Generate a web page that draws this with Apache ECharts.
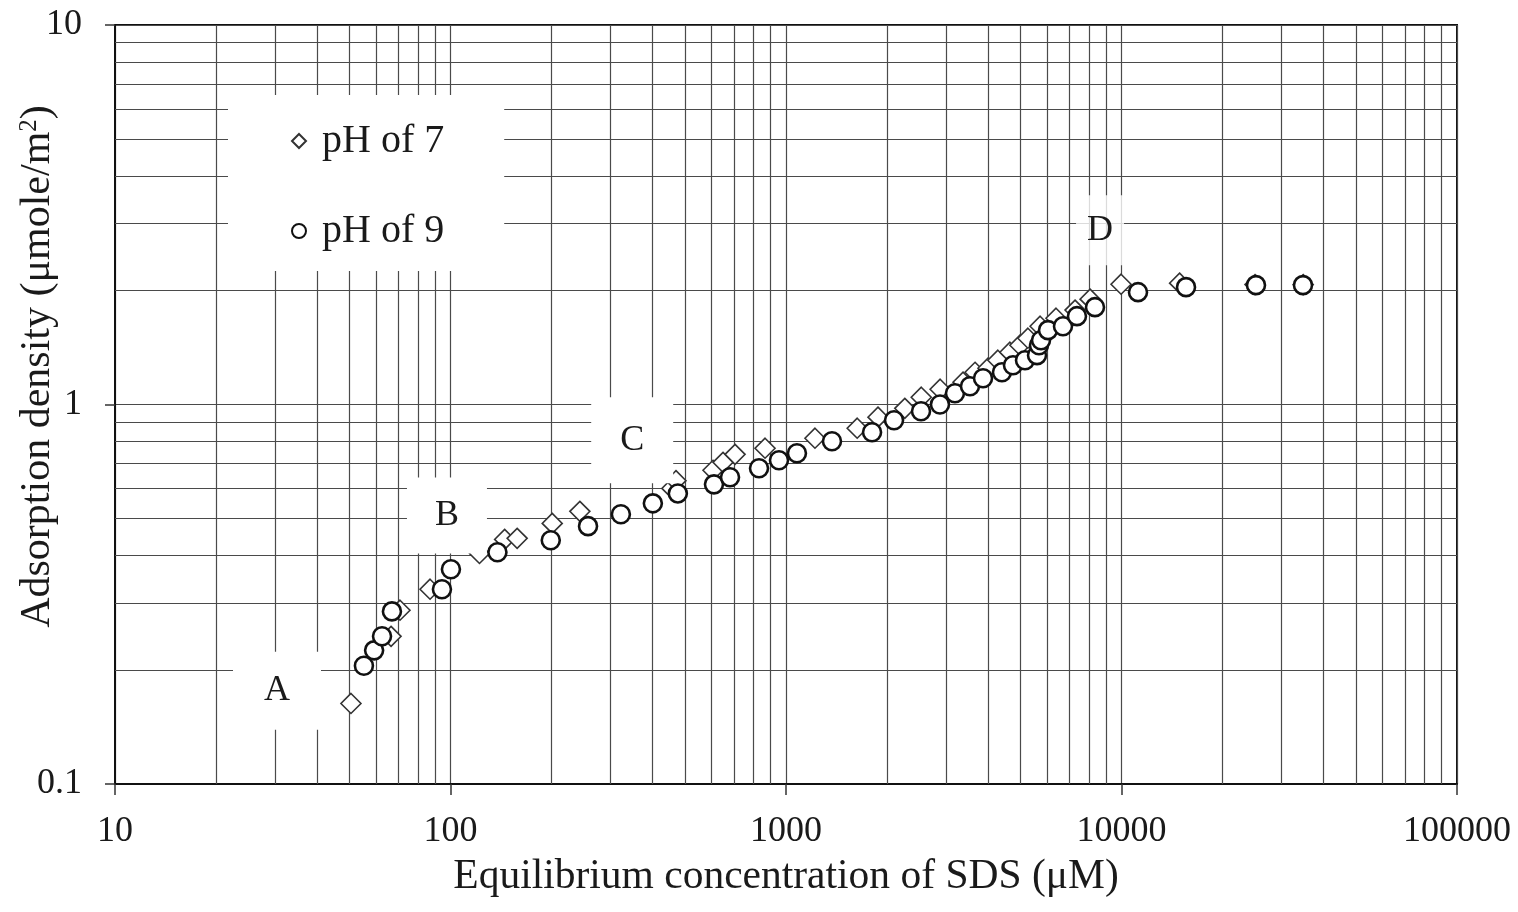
<!DOCTYPE html>
<html>
<head>
<meta charset="utf-8">
<script src="https://cdn.jsdelivr.net/npm/echarts@6/dist/echarts.min.js"></script>
<style>
  html, body { margin: 0; padding: 0; background: #fff; }
  #chart { width: 1518px; height: 912px; }
</style>
</head>
<body>
<div id="chart"></div>
<script>
// pH 7 (diamonds)
const ph7Conc = [50.5, 66.5, 70.7, 86.9, 122, 145, 158, 201, 243, 457, 470, 606, 649, 705, 866, 1220, 1630, 1880, 2260, 2530,
  2880, 3370, 3660, 4000, 4280, 4650, 4980, 5260, 5720, 6380, 7270, 8060, 9970, 14900, 25000, 34800]
const ph7Ads = [0.163, 0.245, 0.287, 0.326, 0.405, 0.441, 0.444, 0.486, 0.523, 0.601, 0.63, 0.671, 0.704, 0.739, 0.767, 0.815, 0.866, 0.926, 0.977, 1.045,
  1.097, 1.145, 1.216, 1.246, 1.308, 1.373, 1.433, 1.495, 1.608, 1.688, 1.773, 1.895, 2.075, 2.088, 2.07, 2.07]
// pH 9 (circles)
const ph9Conc = [55.2, 59.2, 62.5, 66.9, 94.3, 100.3, 138, 199, 257, 322, 401, 476, 610, 681, 831, 953, 1078, 1371, 1805, 2099,
  2526, 2877, 3189, 3535, 3866, 4403, 4749, 5157, 5600, 5677, 5756, 6040, 6693, 7367, 8337, 11200, 15570, 25170, 34750]
const ph9Ads = [0.205, 0.225, 0.245, 0.285, 0.326, 0.368, 0.408, 0.439, 0.478, 0.514, 0.549, 0.583, 0.616, 0.643, 0.679, 0.713, 0.744, 0.800, 0.845, 0.909,
  0.960, 1.000, 1.071, 1.117, 1.173, 1.216, 1.269, 1.308, 1.349, 1.433, 1.477, 1.570, 1.608, 1.709, 1.805, 1.977, 2.038, 2.063, 2.063]
// region labels
const regionNames = ['A', 'B', 'C', 'D']
const regionConc = [30.4, 97.6, 348, 8630]
const regionAds = [0.176, 0.51, 0.805, 2.88]

const serif = "'Liberation Serif', 'Times New Roman', serif"
const ink = '#1a1a1a'
const gridColor = '#4a4a4a'

// minor log gridlines (2..9 in each decade)
function minorLines(lo, hi) {
  const out = []
  for (let d = lo; d < hi; d *= 10) {
    for (let m = 2; m <= 9; m++) out.push(+(m * d).toPrecision(3))
  }
  return out
}
const gridMarks = minorLines(10, 100000).map(v => ({ xAxis: v }))
  .concat(minorLines(0.1, 10).map(v => ({ yAxis: v })))

const boxSizes = [[88, 78], [80, 76], [82, 86], [48, 70]]
const labelMarks = regionNames.map((n, i) => ({
  name: n,
  coord: [regionConc[i], regionAds[i]],
  symbolSize: boxSizes[i],
  itemStyle: { color: n === 'D' ? 'rgba(255,255,255,0.8)' : '#fff' }
}))

const chart = echarts.init(document.getElementById('chart'))
chart.setOption({
  backgroundColor: '#fff',
  animation: false,
  grid: {
    left: 115, right: 61, top: 25, bottom: 128,
    outerBoundsMode: 'none',
    show: true, borderColor: '#111', borderWidth: 2, backgroundColor: '#fff'
  },
  legend: {
    data: ['pH of 7', 'pH of 9'],
    orient: 'vertical',
    left: 228, top: 95,
    padding: [26, 60, 20, 63],
    backgroundColor: '#fff',
    itemGap: 50,
    itemWidth: 14, itemHeight: 14,
    textStyle: { fontFamily: serif, fontSize: 40, color: ink, padding: [0, 0, 0, 11] }
  },
  xAxis: {
    type: 'log', logBase: 10, min: 10, max: 100000,
    name: 'Equilibrium concentration of SDS (μM)',
    nameLocation: 'middle', nameGap: 72,
    nameTextStyle: { fontFamily: serif, fontSize: 41.5, color: ink },
    axisLine: { lineStyle: { color: '#111', width: 2 } },
    axisTick: { show: true, length: 11, lineStyle: { color: '#333', width: 1.5 } },
    axisLabel: { fontFamily: serif, fontSize: 36, color: ink, margin: 30, formatter: v => String(+(+v).toPrecision(6)) },
    splitLine: { show: true, lineStyle: { color: gridColor, width: 1.2 } }
  },
  yAxis: {
    type: 'log', logBase: 10, min: 0.1, max: 10,
    name: '{t|Adsorption density (μmole/m}{s|2}{t|)}',
    nameLocation: 'middle', nameGap: 56,
    nameMoveOverlap: false,
    nameTextStyle: {
      padding: [0, 0, 0, 76],
      rich: {
        t: { fontFamily: serif, fontSize: 42, color: ink },
        s: { fontFamily: serif, fontSize: 25, color: ink, verticalAlign: 'top' }
      }
    },
    axisLine: { lineStyle: { color: '#111', width: 2 } },
    axisTick: { show: true, length: 10, lineStyle: { color: '#333', width: 1.5 } },
    axisLabel: { fontFamily: serif, fontSize: 36, color: ink, margin: 33, formatter: v => String(+(+v).toPrecision(6)) },
    splitLine: { show: true, lineStyle: { color: gridColor, width: 1.2 } }
  },
  series: [
    {
      name: 'helper',
      type: 'line',
      data: [],
      silent: true,
      markLine: {
        z: 1,
        silent: true,
        symbol: 'none',
        label: { show: false },
        lineStyle: { color: gridColor, width: 1.2, type: 'solid' },
        data: gridMarks
      },
      markPoint: {
        z: 20,
        silent: true,
        symbol: 'rect',
        label: { show: true, position: 'inside', formatter: '{b}', fontFamily: serif, fontSize: 36, color: ink },
        data: labelMarks
      }
    },
    {
      name: 'pH of 7',
      type: 'scatter',
      z: 4,
      symbol: 'diamond',
      symbolSize: 20,
      itemStyle: { color: '#fff', borderColor: '#333', borderWidth: 1.6, opacity: 1 },
      data: ph7Conc.map((x, i) => [x, ph7Ads[i]])
    },
    {
      name: 'pH of 9',
      type: 'scatter',
      z: 5,
      symbol: 'circle',
      symbolSize: 18,
      itemStyle: { color: '#fff', borderColor: '#111', borderWidth: 2.6, opacity: 1 },
      data: ph9Conc.map((x, i) => [x, ph9Ads[i]])
    }
  ]
})
</script>
</body>
</html>
